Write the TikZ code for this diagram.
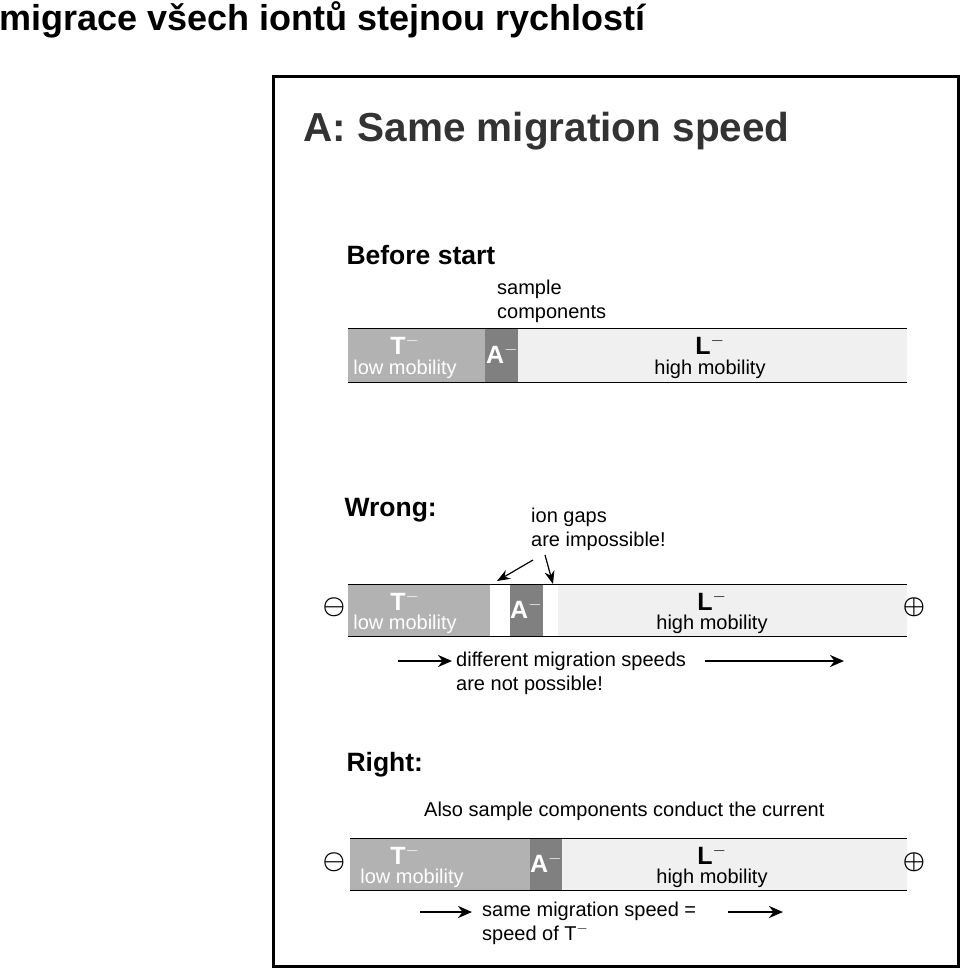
\documentclass[tikz,border=0pt]{standalone}
\usepackage{fontspec}
\setmainfont{Liberation Sans}
\usetikzlibrary{positioning,arrows.meta}
\tikzset{
  tzone/.style={fill=black!30, draw=none},
  azone/.style={fill=black!50, draw=none},
  lzone/.style={fill=black!6, draw=none},
  ionlbl/.style={text=white, inner sep=0pt, font=\fontsize{25}{25}\selectfont\bfseries},
  moblbl/.style={inner sep=0pt, font=\fontsize{20}{20}\selectfont},
  note/.style={inner sep=1pt, font=\fontsize{20}{24}\selectfont, align=left, anchor=west},
  head/.style={font=\fontsize{26.5}{26.5}\selectfont\bfseries, anchor=west},
  pole/.style={inner sep=0pt, font=\fontsize{26}{26}\selectfont\boldmath},
  arrow/.style={line width=2.5pt,-{Stealth[length=14pt,width=12pt]}},
  thin arrow/.style={line width=1.2pt,-{Stealth[length=13pt,width=10pt]}}
}
\begin{document}
\begin{tikzpicture}[x=1pt,y=-1pt]
  \useasboundingbox (0,0) rectangle (960,968);
  \node[anchor=west, font=\fontsize{36}{36}\selectfont\bfseries] (title) at (-4,20) {migrace všech iontů stejnou rychlostí};
  \draw[line width=3pt] (273,77) rectangle (958,966);
  \node[anchor=west, font=\fontsize{40.5}{40.5}\selectfont\bfseries, text=black!80] (atitle) at (300,131) {A: Same migration speed};

  % before start
  \node[head] (before) at (343,255) {Before start};
  \node[note] (sample) at (496,301) {sample\\components};
  \fill[lzone] (348,328) rectangle (907,382);
  \fill[tzone] (348,328) rectangle (485,382);
  \fill[azone] (485,328) rectangle (518,382);
  \draw[thick] (348,328) -- (907,328) (348,382) -- (907,382);
  \node[ionlbl] (t1) at (405,345) {T$^{\mathbf{-}}$};
  \node[moblbl, text=white] (tm1) at (405,369) {low mobility};
  \node[ionlbl] (a1) at (502,354) {A$^{\mathbf{-}}$};
  \node[ionlbl, text=black] (l1) at (710,345) {L$^{\mathbf{-}}$};
  \node[moblbl] (lm1) at (710,369) {high mobility};

  % wrong
  \node[head] (wrong) at (341,510) {Wrong:};
  \node[note] (gaps) at (530,529) {ion gaps\\are impossible!};
  \fill[lzone] (348,584) rectangle (907,636);
  \fill[tzone] (348,584) rectangle (490,636);
  \fill[white] (490,584) rectangle (510,636);
  \fill[azone] (510,584) rectangle (543,636);
  \fill[white] (543,584) rectangle (558,636);
  \draw[thick] (348,584) -- (907,584) (348,636) -- (907,636);
  \node[ionlbl] (t2) at (405,601) {T$^{\mathbf{-}}$};
  \node[moblbl, text=white] (tm2) at (405,624) {low mobility};
  \node[ionlbl] (a2) at (526,609) {A$^{\mathbf{-}}$};
  \node[ionlbl, text=black] (l2) at (712,601) {L$^{\mathbf{-}}$};
  \node[moblbl] (lm2) at (712,624) {high mobility};
  \node[pole] (m2) at (334,607) {$\ominus$};
  \node[pole] (p2) at (914,607) {$\oplus$};
  \coordinate (g1) at (533,560); \coordinate (g1e) at (497,581);
  \coordinate (g2) at (545,555); \coordinate (g2e) at (553,584);
  \draw[thin arrow] (g1) -- (g1e);
  \draw[thin arrow] (g2) -- (g2e);
  \node[note] (diff) at (455,673) {different migration speeds\\are not possible!};
  \coordinate (d1) at (398,661); \coordinate (d1e) at (452,661);
  \coordinate (d2) at (705,661); \coordinate (d2e) at (844,661);
  \draw[arrow] (d1) -- (d1e);
  \draw[arrow] (d2) -- (d2e);

  % right
  \node[head] (right) at (343,765) {Right:};
  \node[note] (also) at (423,811) {Also sample components conduct the current};
  \fill[lzone] (350,838) rectangle (907,890);
  \fill[tzone] (350,838) rectangle (530,890);
  \fill[azone] (530,838) rectangle (562,890);
  \draw[thick] (350,838) -- (907,838) (350,890) -- (907,890);
  \node[ionlbl] (t3) at (405,855) {T$^{\mathbf{-}}$};
  \node[moblbl, text=white] (tm3) at (412,878) {low mobility};
  \node[ionlbl] (a3) at (546,863) {A$^{\mathbf{-}}$};
  \node[ionlbl, text=black] (l3) at (712,855) {L$^{\mathbf{-}}$};
  \node[moblbl] (lm3) at (712,878) {high mobility};
  \node[pole] (m3) at (334,862) {$\ominus$};
  \node[pole] (p3) at (914,862) {$\oplus$};
  \node[note] (same) at (481,923) {same migration speed =\\speed of T$^{-}$};
  \coordinate (s1) at (420,912); \coordinate (s1e) at (472,912);
  \coordinate (s2) at (728,912); \coordinate (s2e) at (783,912);
  \draw[arrow] (s1) -- (s1e);
  \draw[arrow] (s2) -- (s2e);
\end{tikzpicture}
\end{document}
